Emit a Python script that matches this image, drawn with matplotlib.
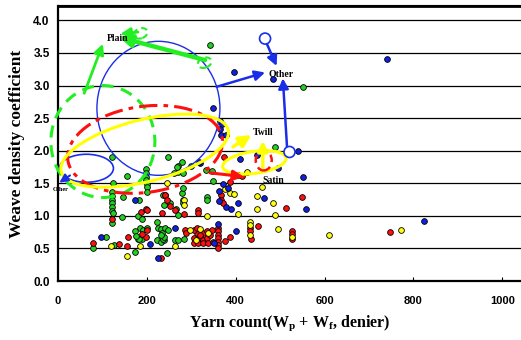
import matplotlib
matplotlib.use("Agg")
import matplotlib.pyplot as plt
from matplotlib.patches import Ellipse, Circle
from matplotlib.transforms import ScaledTranslation

# ---------------- data ----------------
plain_x = [122, 156, 197, 197, 197, 197, 200, 200, 200, 123, 122, 122, 122, 122, 122, 122, 122,
           147, 182, 143, 180, 188, 185, 192, 200, 173, 179, 190, 107, 79, 125, 173, 222, 232, 239,
           222, 225, 232, 248, 269, 279, 271, 260, 300, 281, 333, 346, 348, 279, 281, 236, 239, 271,
           241, 248, 236, 239, 263, 269, 284, 245, 335, 335, 489, 342, 551, 241, 252, 281, 281, 265,
           183, 176, 235, 232, 268, 123]
plain_y = [1.90, 1.61, 1.72, 1.65, 1.60, 1.55, 1.49, 1.44, 1.37, 1.51, 1.37, 1.30, 1.24, 1.19, 1.14, 1.08, 0.89,
           1.29, 1.25, 0.98, 0.99, 0.95, 0.82, 0.78, 0.81, 0.77, 0.64, 0.64, 0.68, 0.50, 0.55, 0.45, 0.63, 0.60, 0.63,
           0.91, 0.82, 0.80, 1.90, 1.76, 1.83, 1.68, 1.65, 1.76, 1.65, 1.70, 1.69, 1.54, 1.35, 1.42, 1.32, 1.17, 1.01,
           0.82, 0.79, 0.64, 0.67, 0.63, 0.63, 0.64, 0.43, 1.29, 1.24, 2.06, 3.62, 2.97, 1.32, 1.19, 1.25, 1.19, 1.10,
           0.65, 0.69, 0.74, 0.71, 1.75, 1.05]

satin_x = [122, 187, 198, 158, 197, 79, 137, 156, 232, 233, 374, 404, 415, 240, 246, 252, 263, 284, 314, 314,
           387, 367, 367, 371, 432, 432, 434, 451, 286, 288, 361, 361, 361, 361, 361, 361, 361,
           305, 312, 320, 327, 335, 342, 305, 316, 327, 338, 348, 312, 327, 335, 346, 305, 312, 320,
           386, 375, 549, 514, 526, 526, 526, 748, 200, 188, 200]
satin_y = [0.95, 1.06, 1.10, 0.68, 0.67, 0.58, 0.57, 0.54, 0.35, 1.04, 1.90, 1.63, 1.61, 1.32, 1.24, 1.15, 1.09, 1.03, 1.09, 1.04,
           1.52, 1.32, 1.25, 1.19, 0.81, 0.76, 0.64, 0.85, 0.78, 0.74, 0.81, 0.76, 0.71, 0.66, 0.60, 0.55, 0.50,
           0.66, 0.63, 0.66, 0.63, 0.66, 0.70, 0.58, 0.58, 0.58, 0.58, 0.60, 0.73, 0.73, 0.76, 0.78, 0.78, 0.81, 0.71,
           0.68, 0.62, 1.29, 1.12, 0.77, 0.72, 0.64, 0.75, 0.78, 0.72, 1.09]

twill_x = [119, 185, 156, 425, 245, 284, 284, 335, 375, 387, 396, 404, 459, 447, 447, 432, 432, 432, 296,
           263, 483, 489, 494, 526, 611, 773, 320, 338, 310]
twill_y = [0.54, 0.53, 0.39, 1.68, 1.50, 1.24, 1.17, 1.00, 1.41, 1.35, 1.34, 1.03, 1.45, 1.30, 1.11, 0.90, 0.86, 0.71, 0.79,
           0.54, 1.19, 1.02, 0.80, 0.68, 0.70, 0.79, 0.80, 0.73, 0.63]

other_x = [96, 207, 226, 173, 320, 447, 363, 372, 383, 363, 378, 389, 404, 464, 263, 401, 540, 495, 551, 558,
           824, 741, 483, 395, 348, 365, 368, 365, 367, 378, 318, 410, 361, 352]
other_y = [0.68, 0.57, 0.36, 1.24, 1.81, 1.93, 1.38, 1.49, 1.42, 1.22, 1.14, 1.11, 1.20, 1.28, 0.81, 0.76, 2.00, 1.74, 1.59, 1.11,
           0.92, 3.41, 3.10, 3.21, 2.66, 2.45, 2.41, 2.33, 2.24, 2.24, 1.82, 1.87, 0.87, 0.58]

x_ticks = [0, 200, 400, 600, 800, 1000]
y_ticks = [0.0, 0.5, 1.0, 1.5, 2.0, 2.5, 3.0, 3.5, 4.0]

# ---------------- figure ----------------
W, H = 521, 340
fig = plt.figure(figsize=(W / 100, H / 100), dpi=100)
ax = fig.add_axes([58 / W, 1 - 281 / H, 1 - 58 / W, 275 / H])
ax.set_xlim(0, 1042)
ax.set_ylim(0, 4.22)

for yv in y_ticks[1:]:
    ax.axhline(yv, color='black', lw=0.9, zorder=1)

kw = dict(s=17, edgecolors='black', linewidths=0.6, zorder=3)
ax.scatter(plain_x, plain_y, c='#22d022', **kw)
ax.scatter(satin_x, satin_y, c='#ff1010', **kw)
ax.scatter(twill_x, twill_y, c='#ffff10', **kw)
ax.scatter(other_x, other_y, c='#1020e0', **kw)

ax.spines['right'].set_visible(False)
ax.spines['left'].set_linewidth(1.6)
ax.spines['bottom'].set_linewidth(1.6)
ax.spines['top'].set_linewidth(2.0)
ax.plot([0, 1], [1.005, 1.005], transform=ax.transAxes, color='black', lw=0.8, clip_on=False)

ax.set_xticks(x_ticks)
ax.set_yticks(y_ticks)
ax.set_xticklabels([str(v) for v in x_ticks], fontsize=8, fontweight='bold', family='Liberation Sans')
ax.set_yticklabels([f"{v:.1f}" for v in y_ticks], fontsize=8.5, fontweight='bold', family='Liberation Sans')
ax.tick_params(axis='x', direction='in', length=3, width=0.8, pad=11)
ax.tick_params(axis='y', length=0, pad=6)

ax.set_ylabel('Weave density coefficient', fontsize=12.5, fontweight='bold', family='Liberation Serif', labelpad=6)
ax.set_xlabel(r'Yarn count(W$_\mathregular{p}$ + W$_\mathregular{f}$, denier)', fontsize=11.5,
              fontweight='bold', family='Liberation Serif', labelpad=5)


# -------- annotation helpers (centres in data, sizes in pixels) --------
def ell(xc, yc, wpx, hpx, ang, **k):
    tr = fig.dpi_scale_trans + ScaledTranslation(xc, yc, ax.transData)
    e = Ellipse((0, 0), wpx / 100, hpx / 100, angle=ang, transform=tr, fill=False, clip_on=False, **k)
    ax.add_patch(e)


def arrow(x0, y0, x1, y1, color, lw=2.0, hw=6):
    ax.annotate('', xy=(x1, y1), xytext=(x0, y0),
                arrowprops=dict(arrowstyle=f'-|>,head_length={hw / 10:.2f},head_width={hw / 20:.2f}',
                                color=color, lw=lw, shrinkA=0, shrinkB=0), zorder=5, annotation_clip=False)


# ellipses
ell(226, 2.65, 123, 134, 0, color='#1a2ee8', lw=1.0, zorder=4)
ell(64, 1.73, 54, 28, 0, color='#1a2ee8', lw=1.2, zorder=4)
ell(101, 2.14, 104, 112, 0, color='#22ee22', lw=2.2, ls=(0, (4, 2.5)), zorder=4)
ell(196, 2.02, 156, 86, 8, color='#ff1010', lw=2.2, ls=(0, (6, 2, 1.5, 2)), zorder=4)
ell(195, 2.00, 172, 62, 14, color='#ffff00', lw=2.2, zorder=4)
ell(442, 1.82, 64, 22, 8, color='#ffff00', lw=2.2, zorder=4)
ell(463, 1.85, 16, 20, 0, color='#ff1010', lw=1.8, ls=(0, (3, 2)), zorder=4)
ell(186, 3.80, 14, 10, 20, color='#22ee22', lw=1.5, ls=(0, (3, 2)), zorder=4)
ell(330, 3.35, 14, 10, 20, color='#22ee22', lw=1.5, ls=(0, (3, 2)), zorder=4)

# open circle markers of "Other"
for cx, cy in [(466, 3.72), (521, 1.98)]:
    tr = fig.dpi_scale_trans + ScaledTranslation(cx, cy, ax.transData)
    ax.add_patch(Circle((0, 0), 0.055, transform=tr, facecolor='white', edgecolor='#1a2ee8',
                        lw=1.2, zorder=6, clip_on=False))

# arrows
arrow(59, 2.88, 101, 3.64, '#22ee22', lw=2.0)
arrow(331, 3.39, 138, 3.74, '#22ee22', lw=3.2, hw=7)
arrow(180, 3.82, 140, 3.79, '#22ee22', lw=2.0)
arrow(357, 2.98, 466, 3.20, '#1a2ee8', lw=1.8)
arrow(470, 3.64, 492, 3.30, '#1a2ee8', lw=1.8)
arrow(516, 1.99, 506, 3.11, '#1a2ee8', lw=1.8)
arrow(27, 1.62, 3, 1.51, '#1a2ee8', lw=1.5, hw=5)
arrow(394, 2.06, 435, 2.24, '#ffff00', lw=2.6, hw=7)
arrow(461, 1.74, 461, 2.15, '#ffff00', lw=2.4, hw=6)
arrow(342, 1.66, 418, 1.60, '#ff1010', lw=2.2, hw=6)

# category labels
tk = dict(family='Liberation Serif', fontweight='bold', fontsize=7, zorder=7, clip_on=False)
ax.text(110, 3.68, 'Plain', **tk)
ax.text(473, 3.13, 'Other', **tk)
ax.text(439, 2.24, 'Twill', **tk)
ax.text(460, 1.50, 'Satin', **tk)
ax.text(-11, 1.38, 'Other', family='Liberation Serif', fontweight='bold', fontsize=4.5, clip_on=False)

fig.savefig('out.png', dpi=100)
